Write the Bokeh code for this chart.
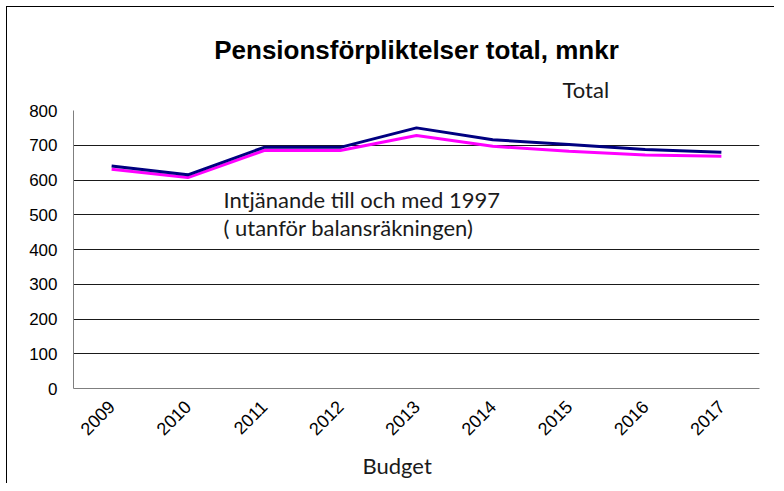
from math import pi
from bokeh.plotting import figure
from bokeh.models import Title, FixedTicker, Range1d, Label
from bokeh.embed import file_html
from bokeh.resources import INLINE

years = ["2009", "2010", "2011", "2012", "2013", "2014", "2015", "2016", "2017"]
total = [640, 615, 694, 694, 750, 716, 702, 688, 680]
intjanande = [631, 607, 685, 685, 728, 697, 683, 672, 668]
y_ticks = [0, 100, 200, 300, 400, 500, 600, 700, 800]

title_text = "Pensionsförpliktelser total, mnkr"
total_label = "Total"
note_line1 = "Intjänande till och med 1997"
note_line2 = "( utanför balansräkningen)"
x_title = "Budget"

calib = "Lato"

p = figure(x_range=years, y_range=Range1d(0, 800), width=768, height=477,
           output_backend="svg", toolbar_location=None,
           min_border_left=66, min_border_right=16,
           min_border_top=103, min_border_bottom=96)
p.styles = {"margin-left": "6px", "margin-top": "6px",
            "border-left": "1px solid black", "border-top": "1px solid black"}
p.outline_line_color = None
p.background_fill_color = "white"
p.border_fill_color = "white"

p.title.text = title_text
p.title.align = "center"
p.title.text_font = "Liberation Sans"
p.title.text_font_style = "bold"
p.title.text_font_size = "26px"
p.title.text_color = "black"
p.title.standoff = 3

p.add_layout(Title(text=total_label, align="left", offset=489, standoff=15,
                   text_font=calib, text_font_style="normal",
                   text_font_size="22px", text_color="#1a1a1a"), "above")

p.line(years, intjanande, line_color="#FF00FF", line_width=3)
p.line(years, total, line_color="#000080", line_width=3)

p.xgrid.visible = False
p.ygrid.grid_line_color = "#1a1a1a"
p.ygrid.grid_line_width = 1

p.yaxis.ticker = FixedTicker(ticks=y_ticks)
p.yaxis.axis_line_color = "#7f7f7f"
p.yaxis.major_tick_line_color = None
p.yaxis.minor_tick_line_color = None
p.yaxis.major_tick_out = 0
p.yaxis.major_tick_in = 0
p.yaxis.major_label_standoff = 16
p.yaxis.major_label_text_font = "Liberation Sans"
p.yaxis.major_label_text_font_size = "17px"
p.yaxis.major_label_text_color = "black"

p.xaxis.axis_line_color = "#7f7f7f"
p.xaxis.major_tick_line_color = None
p.xaxis.minor_tick_line_color = None
p.xaxis.major_tick_out = 0
p.xaxis.major_tick_in = 0
p.xaxis.major_label_orientation = pi / 4
p.xaxis.major_label_standoff = 15
p.xaxis.major_label_text_font = "Liberation Sans"
p.xaxis.major_label_text_font_size = "18px"
p.xaxis.major_label_text_color = "black"

p.add_layout(Title(text=x_title, align="left", offset=289, standoff=10,
                   text_font=calib, text_font_style="normal",
                   text_font_size="22px", text_color="#1a1a1a"), "below")

p.add_layout(Label(x=150, y=189, x_units="screen", y_units="screen", text=note_line1,
                   text_align="left", text_baseline="alphabetic",
                   text_font=calib, text_font_size="22px", text_color="#1a1a1a"))
p.add_layout(Label(x=150, y=161, x_units="screen", y_units="screen", text=note_line2,
                   text_align="left", text_baseline="alphabetic",
                   text_font=calib, text_font_size="22px", text_color="#1a1a1a"))

open("out.html", "w").write(file_html(p, INLINE))
